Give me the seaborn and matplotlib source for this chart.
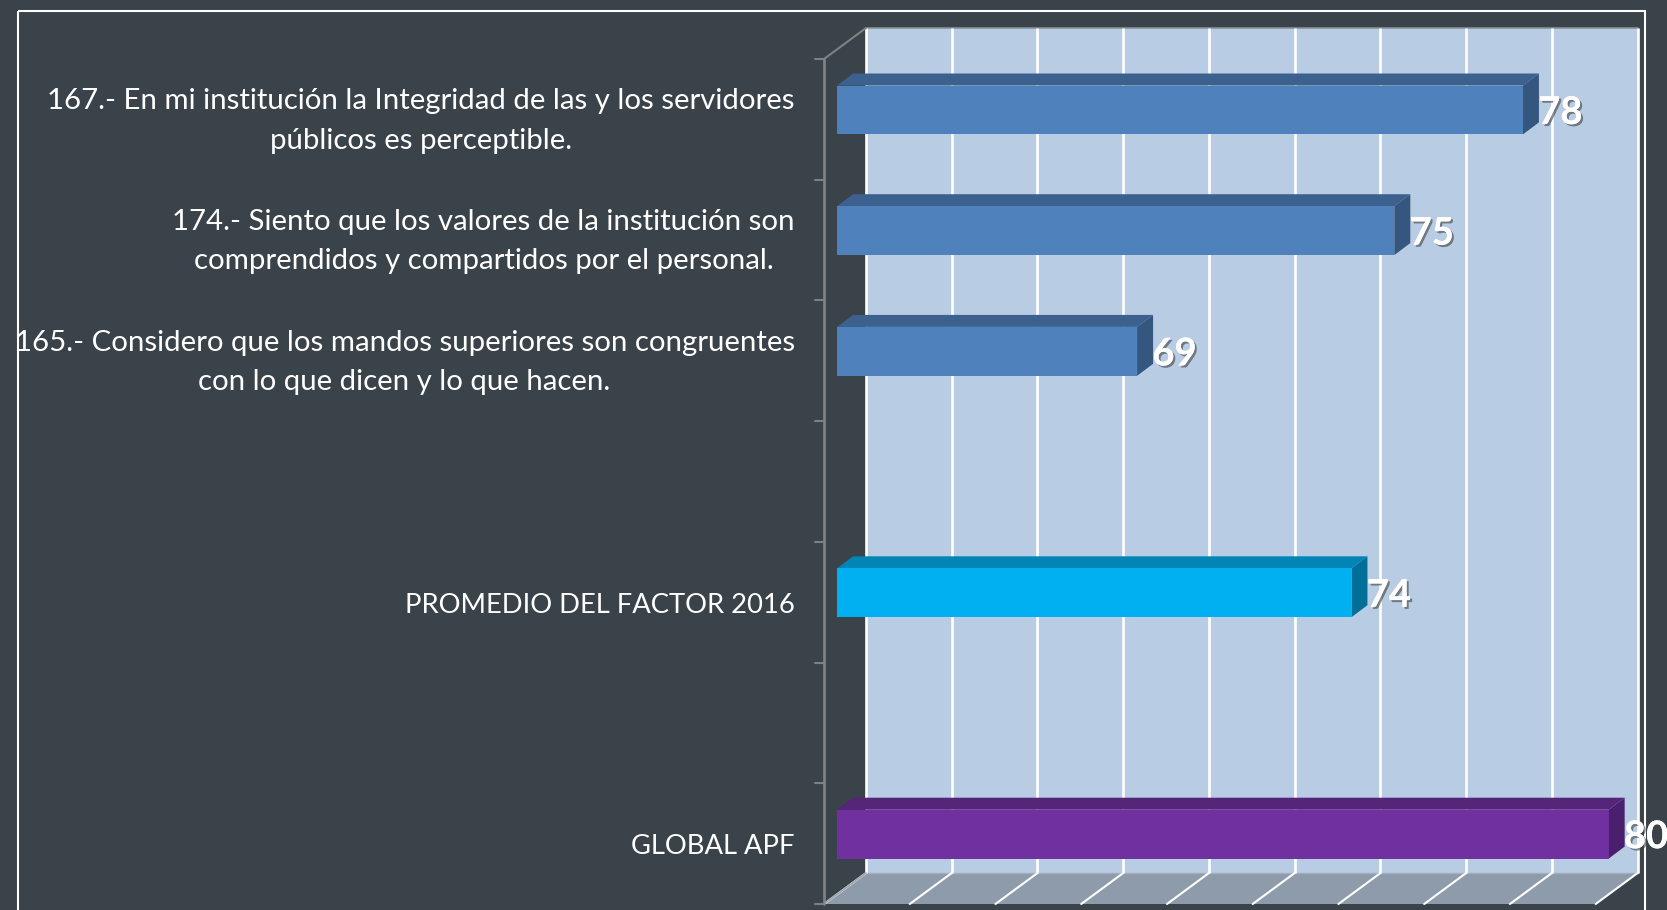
import numpy as np
import pandas as pd
import matplotlib
matplotlib.use("Agg")
import matplotlib.pyplot as plt
import matplotlib.patheffects as pe
from matplotlib.patches import Polygon, Rectangle
import seaborn as sns

# Data
labels = [
    "167.- En mi institución la Integridad de las y los servidores\npúblicos es perceptible.",
    "174.- Siento que los valores de la institución son\ncomprendidos y compartidos por el personal.",
    "165.- Considero que los mandos superiores son congruentes\ncon lo que dicen y lo que hacen.",
    "PROMEDIO DEL FACTOR 2016",
    "GLOBAL APF",
]
values = [78, 75, 69, 74, 80]
groups = ["reactivo", "reactivo", "reactivo", "promedio", "global"]
# empty slots on the category axis
slot_order = [labels[0], labels[1], labels[2], " ", labels[3], "  ", labels[4]]
grid_values = np.arange(62, 81, 2)

face_colors = {"reactivo": "#4f81bd", "promedio": "#00b0f0", "global": "#7030a0"}
top_colors = {"reactivo": "#3c618f", "promedio": "#0085b6", "global": "#552579"}
side_colors = {"reactivo": "#35567f", "promedio": "#007099", "global": "#4a1f6d"}

BG = "#3a424a"
W, H = 1667, 910
DEPTH_BAR = (16, 12)     # depth of the bars, pixels
DEPTH_WALL = (42, 31)    # depth of the floor, pixels
WALL_SHIFT = 29          # back wall against the bar plane

sns.set_theme(style="white")
plt.rcParams["font.family"] = ["Lato", "DejaVu Sans"]

fig = plt.figure(figsize=(W / 100, H / 100), dpi=100, facecolor=BG)

# background layer in pixels, y going down
bg = fig.add_axes([0, 0, 1, 1], zorder=0)
bg.set_xlim(0, W)
bg.set_ylim(H, 0)
bg.axis("off")

# bars layer: left edge is the start of the bars, top/bottom are the slots
left, right = 837, W
top, bottom = 49.6, 894.5
ax = fig.add_axes([left / W, 1 - bottom / H, (right - left) / W, (bottom - top) / H], zorder=1)
ax.patch.set_alpha(0)
px_per_unit = 42.87
ax.set_xlim(62, 62 + (right - left) / px_per_unit)

df = pd.DataFrame({"pregunta": labels, "valor": values, "grupo": groups})
sns.barplot(data=df, x="valor", y="pregunta", hue="grupo", order=slot_order,
            palette=face_colors, dodge=False, legend=False, width=0.405,
            saturation=1, linewidth=0, ax=ax)
ax.set_xlim(62, 62 + (right - left) / px_per_unit)
ax.set_ylim(6.5, -0.5)
ax.set_xlabel("")
ax.set_ylabel("")
ax.set_xticks([])
ax.set_yticks([])
sns.despine(ax=ax, left=True, bottom=True)


def to_px(x, y):
    dx, dy = ax.transData.transform((x, y))
    return dx, H - dy


# wall, floor and gridlines, all placed from the value scale
wall_l = to_px(grid_values[0], 0)[0] + WALL_SHIFT
wall_r = to_px(grid_values[-1], 0)[0] + WALL_SHIFT
wall_t, wall_b = 28, 873
bg.add_patch(Rectangle((wall_l, wall_t), wall_r - wall_l, wall_b - wall_t,
                       facecolor="#b8cce4", edgecolor="none"))
bg.plot([wall_l, wall_r], [wall_t, wall_t], color="#8a8f94", lw=1.2)
bg.add_patch(Polygon([(wall_l, wall_b), (wall_r, wall_b),
                      (wall_r - DEPTH_WALL[0], wall_b + DEPTH_WALL[1]),
                      (wall_l - DEPTH_WALL[0], wall_b + DEPTH_WALL[1])],
                     facecolor="#8e9bab", edgecolor="none"))
bg.plot([wall_l, wall_r], [wall_b, wall_b], color="#a4aeba", lw=1)
for v in grid_values:
    gx = to_px(v, 0)[0] + WALL_SHIFT
    bg.plot([gx, gx], [wall_t, wall_b], color="white", lw=1.9, solid_capstyle="butt")
    bg.plot([gx, gx - DEPTH_WALL[0]], [wall_b, wall_b + DEPTH_WALL[1]], color="white", lw=1.5)

# category axis on the left with ticks between the slots
axis_x = wall_l - DEPTH_WALL[0]
axis_t, axis_b = wall_t + DEPTH_WALL[1], wall_b + DEPTH_WALL[1]
bg.plot([axis_x, axis_x], [axis_t, axis_b], color="#808080", lw=2)
bg.plot([axis_x, wall_l], [axis_t, wall_t], color="#808080", lw=1.5)
bg.plot([axis_x, wall_l], [axis_b, wall_b], color="#9aa3ad", lw=1.2)
for tick_y in np.linspace(axis_t, axis_b, len(slot_order) + 1):
    bg.plot([axis_x - 9, axis_x], [tick_y, tick_y], color="#808080", lw=1.5)

# 3d faces of every bar
for container, group in zip(ax.containers, ["reactivo", "promedio", "global"]):
    for bar in container:
        x0 = max(bar.get_x(), 62)
        x1 = bar.get_x() + bar.get_width()
        y0 = bar.get_y()
        y1 = y0 + bar.get_height()
        lx, ty = to_px(x0, y0)
        rx, by = to_px(x1, y1)
        dx, dy = DEPTH_BAR
        bg.add_patch(Polygon([(lx, ty), (rx, ty), (rx + dx, ty - dy), (lx + dx, ty - dy)],
                             facecolor=top_colors[group], edgecolor="none", zorder=4))
        bg.add_patch(Polygon([(rx, ty), (rx + dx, ty - dy), (rx + dx, by - dy), (rx, by)],
                             facecolor=side_colors[group], edgecolor="none", zorder=4))
    texts = ax.bar_label(container, fmt="%d", padding=11, color="white", fontsize=27.5,
                         fontweight="bold", clip_on=False,
                         path_effects=[pe.withSimplePatchShadow(offset=(1.5, -1.5), shadow_rgbFace="#404040", alpha=0.6),
                                       pe.Normal()])
    for t in texts:
        t.xyann = (t.xyann[0], t.xyann[1] - 2.2)

# category labels sit a bit under the bars, caps labels run narrower
for label in labels:
    two_lines = "\n" in label
    ax.annotate(label, xy=(0, slot_order.index(label)), xycoords=ax.get_yaxis_transform(),
                xytext=(-30.5, -8.0 if two_lines else -9.2), textcoords="offset points",
                ha="right", va="center", ma="center", color="white",
                fontsize=21.2 if two_lines else 19.7, linespacing=1.63, annotation_clip=False)

# white frame around the slide
bg.add_patch(Rectangle((18, 11), 1627, 920, fill=False, edgecolor="white", lw=1.5, zorder=5, clip_on=True))

fig.savefig("out.png", dpi=100, facecolor=BG)
